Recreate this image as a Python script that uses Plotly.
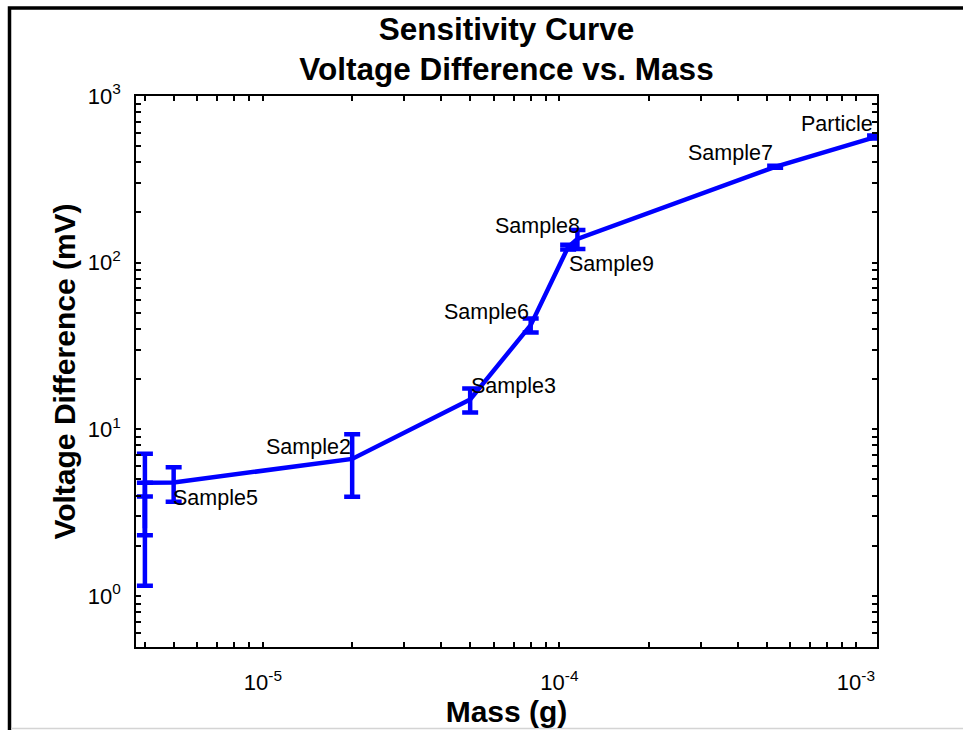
import numpy as np
import plotly.graph_objects as go

# ---------------- data ----------------
mass_g = [4.0e-6, 4.0e-6, 4.0e-6, 5.0e-6, 2.0e-5, 5.0e-5, 8.0e-5, 1.07e-4, 1.15e-4, 5.34e-4, 1.16e-3]
voltage_mv = [2.55, 4.72, 4.78, 4.8, 6.64, 15.1, 42.2, 124.0, 138.8, 376.0, 567.0]
voltage_err = [1.40, 2.41, 0.0, 1.12, 2.7, 2.5, 4.05, 4.0, 18.2, 5.0, 12.0]
point_labels = ["", "", "", "Sample5", "Sample2", "Sample3", "Sample6",
                "Sample9", "Sample8", "Sample7", "Particle"]

x_tick_decades = [-5, -4, -3]
x_tick_labels = ["10<sup>-5</sup>", "10<sup>-4</sup>", "10<sup>-3</sup>"]
y_tick_decades = [0, 1, 2, 3]
y_tick_labels = ["10<sup>0</sup>", "10<sup>1</sup>", "10<sup>2</sup>", "10<sup>3</sup>"]

# ---------------- label placement (style only) ----------------
label_place = {
    "Sample5": ("left", -3, -16),
    "Sample2": ("right", 1, 12),
    "Sample3": ("left", -1, 13),
    "Sample6": ("right", 0, 13),
    "Sample9": ("left", -1, -17),
    "Sample8": ("right", 5, 13),
    "Sample7": ("right", 0, 14),
    "Particle": ("right", 0, 13),
}

FONT = "Arial, Liberation Sans, Helvetica, sans-serif"
BLUE = "#0000FF"
TICK_FONT = dict(family=FONT, size=22, color="black")


def log_ticks(decades, labels, lo, hi):
    vals, text = [], []
    for d in range(int(np.floor(lo)) - 1, int(np.ceil(hi)) + 1):
        for k in range(1, 10):
            v = k * 10.0 ** d
            lv = np.log10(v)
            if lo - 1e-9 <= lv <= hi + 1e-9:
                vals.append(v)
                if k == 1 and d in decades:
                    text.append(labels[decades.index(d)])
                else:
                    text.append("")
    return vals, text


x_range = [-5.428, -2.929]
y_range = [np.log10(0.494), 3.0]

xt_vals, xt_text = log_ticks(x_tick_decades, x_tick_labels, *x_range)
yt_vals, yt_text = log_ticks(y_tick_decades, y_tick_labels, *y_range)

fig = go.Figure()
fig.add_trace(go.Scatter(
    x=mass_g, y=voltage_mv,
    mode="lines",
    line=dict(color=BLUE, width=4.5),
    error_y=dict(type="data", array=voltage_err, visible=True,
                 color=BLUE, thickness=4.5, width=8),
    showlegend=False,
    hoverinfo="x+y",
))

annotations = []
for xm, yv, lab in zip(mass_g, voltage_mv, point_labels):
    if not lab:
        continue
    anchor, dx, dy = label_place[lab]
    annotations.append(dict(
        x=np.log10(xm), y=np.log10(yv), xref="x", yref="y",
        text=lab, showarrow=False, xanchor=anchor, yanchor="middle",
        xshift=dx, yshift=dy,
        font=dict(family=FONT, size=21.5, color="black"),
    ))

fig.update_layout(
    width=963, height=730,
    margin=dict(l=136, r=86, t=96, b=83, autoexpand=False),
    paper_bgcolor="white", plot_bgcolor="white",
    font=dict(family=FONT, color="black"),
    title=dict(
        text="<b>Sensitivity Curve<br>Voltage Difference vs. Mass</b>",
        font=dict(family=FONT, size=31.5, color="black"),
        x=(506.5 / 963), xanchor="center", xref="container",
        y=1 - 39.5 / 730, yanchor="middle", yref="container",
    ),
    xaxis=dict(
        type="log", range=x_range, tickmode="array",
        tickvals=xt_vals, ticktext=xt_text, tickfont=TICK_FONT,
        showline=True, linecolor="black", linewidth=1.5,
        mirror="allticks", ticks="inside", ticklen=5, tickwidth=1.5,
        tickcolor="black", showgrid=False, zeroline=False,
        ticklabelstandoff=15,
        title=dict(text="<b>Mass (g)</b>", font=dict(family=FONT, size=30, color="black"),
                   standoff=5),
    ),
    yaxis=dict(
        type="log", range=y_range, tickmode="array",
        tickvals=yt_vals, ticktext=yt_text, tickfont=TICK_FONT,
        showline=True, linecolor="black", linewidth=1.5,
        mirror="allticks", ticks="inside", ticklen=5, tickwidth=1.5,
        tickcolor="black", showgrid=False, zeroline=False,
        ticklabelstandoff=9,
        title=dict(text="<b>Voltage Difference (mV)</b>",
                   font=dict(family=FONT, size=30, color="black"), standoff=3),
    ),
    annotations=annotations,
    shapes=[
        dict(type="rect", xref="paper", yref="paper",
             x0=(9.5 - 136) / 741, x1=(980 - 136) / 741,
             y0=(647 - 745) / 551, y1=(647 - 8) / 551,
             line=dict(color="black", width=3.5), fillcolor="rgba(0,0,0,0)",
             layer="above"),
        dict(type="line", xref="paper", yref="paper",
             x0=(11 - 136) / 741, x1=(963 - 136) / 741,
             y0=(647 - 728.5) / 551, y1=(647 - 728.5) / 551,
             line=dict(color="#d4d4d4", width=1.5), layer="above"),
    ],
)

fig.write_html("out.html")
